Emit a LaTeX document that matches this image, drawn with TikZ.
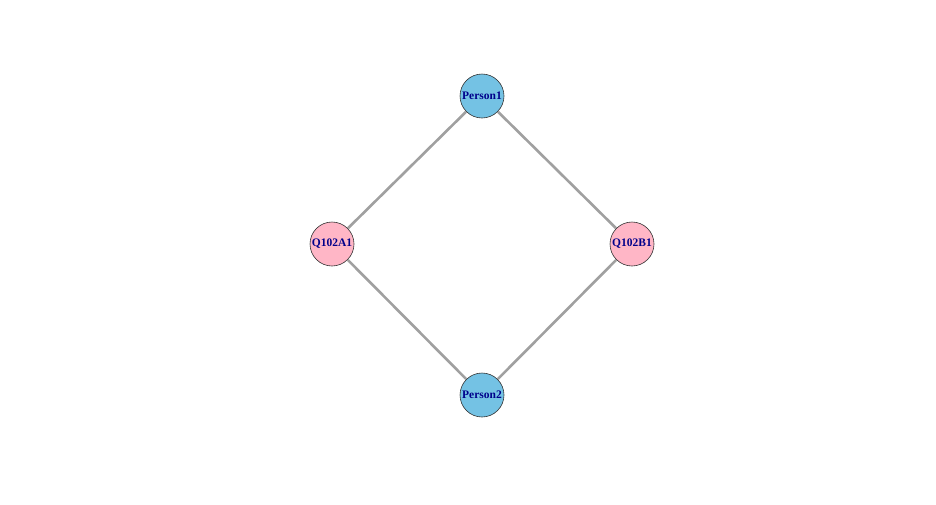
\documentclass[tikz,border=0pt]{standalone}
\usepackage{fontspec}
\setmainfont{Liberation Serif}
\definecolor{nodeblue}{HTML}{74C2E4}
\definecolor{nodepink}{HTML}{FFB6C6}
\definecolor{edgegray}{HTML}{A0A0A0}
\definecolor{labelnavy}{HTML}{00008B}
\begin{document}
\begin{tikzpicture}[x=1pt,y=-1pt,
  vert/.style={circle,draw=black!80,line width=0.6pt,minimum size=44pt,inner sep=0pt,
    font=\bfseries\fontsize{11.5}{12}\selectfont,text=labelnavy},
  person/.style={vert,fill=nodeblue},
  item/.style={vert,fill=nodepink},
  edge/.style={draw=edgegray,line width=2.6pt}]
\useasboundingbox (0,0) rectangle (936,504);
\node[person] (p1) at (482,96) {Person1};
\node[item] (qa) at (332,244) {Q102A1};
\node[item] (qb) at (632,244) {Q102B1};
\node[person] (p2) at (482,395) {Person2};
\draw[edge] (p1) -- (qa);
\draw[edge] (p1) -- (qb);
\draw[edge] (qa) -- (p2);
\draw[edge] (qb) -- (p2);
\end{tikzpicture}
\end{document}
